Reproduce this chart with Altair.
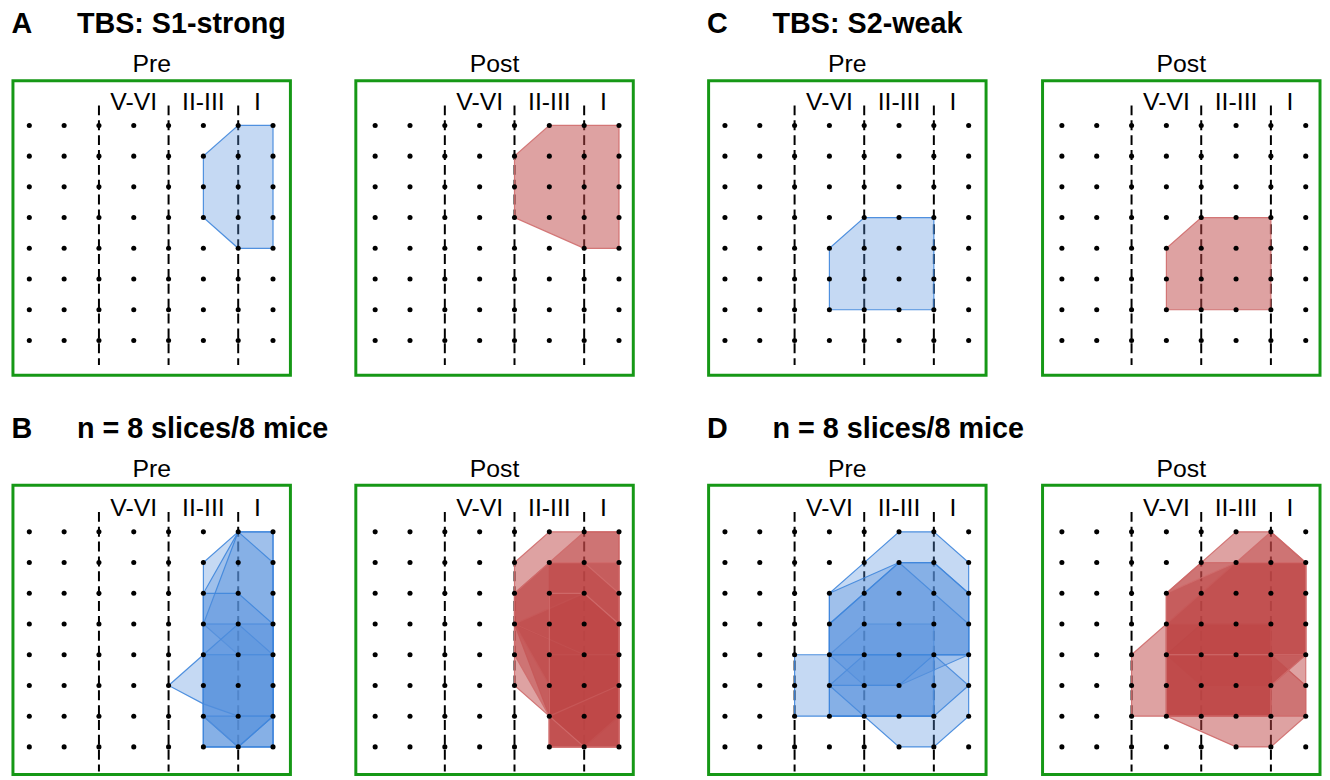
import altair as alt
import pandas as pd

# ---------------- data ----------------
GRID_COLS = [0, 1, 2, 3, 4, 5, 6, 7]
GRID_ROWS = [0, 1, 2, 3, 4, 5, 6, 7]
DASH_COLS = [2, 4, 6]
LAYER_NAMES = ["V-VI", "II-III", "I"]
LAYER_NAME_COLS = [3, 5, 6.55]

HEADER_LETTERS = ["A", "B", "C", "D"]
HEADER_TEXTS = ["TBS: S1-strong", "n = 8 slices/8 mice", "TBS: S2-weak", "n = 8 slices/8 mice"]
PANEL_TITLES = ["Pre", "Post"]

# polygons: lists of (column, row) grid vertices, row 0 = top row
A_PRE = [[(6, 0), (7, 0), (7, 4), (6, 4), (5, 3), (5, 1)]]
A_POST = [[(5, 0), (7, 0), (7, 4), (6, 4), (4, 3), (4, 1)]]
C_PRE = [[(4, 3), (6, 3), (6, 6), (3, 6), (3, 4)]]
C_POST = [[(4, 3), (6, 3), (6, 6), (3, 6), (3, 4)]]

B_PRE = [
    [(6, 0), (7, 0), (7, 4), (6, 4), (5, 3), (5, 1)],
    [(6, 0), (7, 0), (7, 7), (6, 7), (5, 6), (5, 2)],
    [(6, 0), (7, 1), (7, 6), (6, 7), (5, 6), (5, 3)],
    [(5, 3), (6, 3), (7, 4), (7, 7), (5, 7)],
    [(4, 5), (5, 4), (6, 3), (7, 3), (7, 6), (6, 6), (5, 5.6)],
    [(5, 4), (7, 4), (7, 6), (6, 7), (5, 6)],
    [(5, 6), (7, 6), (7, 7), (5, 7)],
    [(5, 2), (6, 2), (7, 3), (7, 6), (6, 7), (5, 7)],
]
B_POST = [
    [(5, 0), (7, 0), (7, 4), (6, 4), (4, 3), (4, 1)],
    [(6, 0), (7, 0), (7, 7), (5, 7), (5, 1)],
    [(4, 2), (5, 1), (7, 1), (7, 6), (6, 7), (5, 6), (4, 5)],
    [(4, 3), (6, 2), (7, 3), (7, 7), (5, 7), (5, 6)],
    [(4, 3), (6, 4), (7, 4), (7, 6), (6, 7), (5, 7), (5, 5)],
    [(5, 4), (7, 4), (7, 7), (5, 7)],
    [(4, 2), (5, 1), (6, 1), (7, 2), (7, 5), (5, 6), (4, 4)],
    [(5, 2), (6, 2), (7, 3), (7, 7), (6, 7), (5, 6)],
]
D_PRE = [
    [(4, 3), (6, 3), (6, 6), (3, 6), (3, 4)],
    [(5, 0), (6, 0), (7, 1), (7, 4), (5, 5), (4, 5), (3, 4), (3, 2), (4, 1)],
    [(3, 2), (5, 1), (6, 1), (7, 2), (7, 4), (3, 4)],
    [(2, 4), (6, 4), (6, 6), (2, 6)],
    [(3, 5), (4, 4), (6, 4), (7, 5), (7, 6), (6, 7), (5, 7)],
    [(3, 3), (5, 1), (7, 3), (7, 4), (3, 4)],
    [(3, 3), (5, 1), (6, 1), (7, 2), (7, 4), (6, 4), (5, 5), (3, 5)],
    [(3, 4), (4, 4), (7, 4), (7, 5), (6, 6), (3, 6)],
]
D_POST = [
    [(4, 3), (6, 3), (6, 6), (3, 6), (3, 4)],
    [(5, 0), (6, 0), (7, 1), (7, 4), (6, 5), (4, 5), (3, 4), (3, 2), (4, 1)],
    [(3, 2), (4, 1), (7, 1), (7, 4), (3, 4)],
    [(2, 4), (3, 3), (6, 3), (6, 6), (2, 6)],
    [(3, 4), (6, 4), (7, 5), (7, 6), (6, 7), (5, 7), (3, 6)],
    [(3, 3), (6, 0), (7, 1), (7, 4), (3, 4)],
    [(3, 2), (5, 1), (7, 1), (7, 6), (6, 6), (3, 6)],
    [(3, 4), (7, 4), (6, 5), (6, 6), (3, 6)],
]

# ---------------- style ----------------
FONT = "Liberation Sans"
GREEN = "#169816"
BLUE = dict(fill="#5a91dc", stroke="#3f86dc", fo=0.35)
RED = dict(fill="#be4646", stroke="#cf6b6b", fo=0.50)

DASH_TOP, DASH_BOTTOM = -0.65, 7.8
LABEL_Y = -0.5


def panel(title, polys, style, xdom, ydom, height):
    xs = alt.Scale(domain=xdom, nice=False, zero=False)
    ys = alt.Scale(domain=ydom, nice=False, zero=False)
    dots = pd.DataFrame([(c, r) for r in GRID_ROWS for c in GRID_COLS], columns=["col", "row"])
    dashes = pd.DataFrame({"col": DASH_COLS, "top": DASH_TOP, "bot": DASH_BOTTOM})
    labels = pd.DataFrame({"col": LAYER_NAME_COLS, "name": LAYER_NAMES, "row": LABEL_Y})
    pts = pd.DataFrame(
        [{"pid": k, "i": i, "col": c, "row": r}
         for k, p in enumerate(polys) for i, (c, r) in enumerate(p)]
    )
    rule = alt.Chart(dashes).mark_rule(color="black", strokeWidth=2, strokeDash=[10, 5]).encode(
        x=alt.X("col:Q", scale=xs, axis=None),
        y=alt.Y("top:Q", scale=ys, axis=None),
        y2="bot:Q",
    )
    poly = alt.Chart(pts).mark_line(
        interpolate="linear-closed", fill=style["fill"], fillOpacity=style["fo"],
        stroke=style["stroke"], strokeWidth=1.2, strokeOpacity=0.9,
    ).encode(
        x=alt.X("col:Q", scale=xs, axis=None),
        y=alt.Y("row:Q", scale=ys, axis=None),
        detail="pid:N",
        order="i:Q",
    )
    pts_layer = alt.Chart(dots).mark_circle(size=26, color="black", opacity=1).encode(
        x=alt.X("col:Q", scale=xs, axis=None),
        y=alt.Y("row:Q", scale=ys, axis=None),
    )
    txt = alt.Chart(labels).mark_text(
        font=FONT, fontSize=25, baseline="alphabetic", align="center", color="black"
    ).encode(
        x=alt.X("col:Q", scale=xs, axis=None),
        y=alt.Y("row:Q", scale=ys, axis=None),
        text="name:N",
    )
    return alt.layer(rule, poly, pts_layer, txt).properties(
        width=280, height=height,
        title=alt.TitleParams(title, font=FONT, fontSize=25, fontWeight="normal",
                              color="black", offset=-16.5, baseline="alphabetic"),
    )


def group(idx, polys_pre, polys_post, style_pre, style_post, ydom, height, spacing):
    pre = panel(PANEL_TITLES[0], polys_pre, style_pre, [-0.47, 7.5], ydom, height)
    post = panel(PANEL_TITLES[1], polys_post, style_post, [-0.555, 7.41], ydom, height)
    head = HEADER_LETTERS[idx] + "\u2002\u2002\u00a0\u00a0" + HEADER_TEXTS[idx]
    return alt.hconcat(
        pre, post, spacing=spacing,
        title=alt.TitleParams(head, anchor="start", font=FONT, fontSize=29,
                              fontWeight="bold", color="black", offset=-11,
                              baseline="alphabetic"),
    )


Y1 = [8.13, -1.45]
Y2 = [7.9, -1.52]
row1 = alt.hconcat(
    group(0, A_PRE, A_POST, BLUE, RED, Y1, 297, 62),
    group(2, C_PRE, C_POST, BLUE, RED, Y1, 297, 53),
    spacing=72,
)
row2 = alt.hconcat(
    group(1, B_PRE, B_POST, BLUE, RED, Y2, 292, 62),
    group(3, D_PRE, D_POST, BLUE, RED, Y2, 292, 53),
    spacing=72,
)

chart = alt.vconcat(row1, row2, spacing=38).properties(
    padding={"left": 3, "top": -1, "right": 0, "bottom": 0},
    background="white",
).configure_view(stroke=GREEN, strokeWidth=3)

chart.save("out.html", embed_options={"renderer": "svg", "actions": False})
